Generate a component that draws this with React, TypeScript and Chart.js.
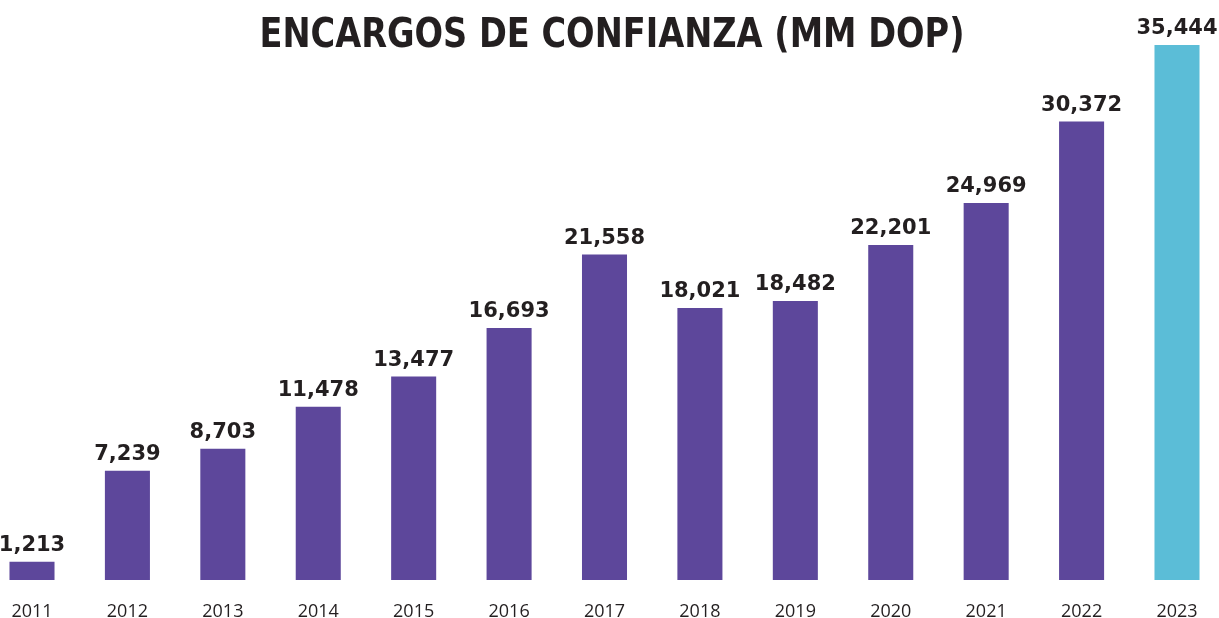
import React, { useEffect, useRef } from "react";
import { Chart, registerables } from "chart.js";

Chart.register(...registerables);

const TITLE = "ENCARGOS DE CONFIANZA (MM DOP)";
const years = ["2011", "2012", "2013", "2014", "2015", "2016", "2017", "2018", "2019", "2020", "2021", "2022", "2023"];
const values = [1213, 7239, 8703, 11478, 13477, 16693, 21558, 18021, 18482, 22201, 24969, 30372, 35444];
const PURPLE = "#5D479B";
const CYAN = "#5BBDD7";
const TEXT = "#231F20";

const labelPlugin = {
  id: "valueLabels",
  afterDatasetsDraw(chart: any) {
    const ctx = chart.ctx;
    const meta = chart.getDatasetMeta(0);
    ctx.save();
    ctx.fillStyle = TEXT;
    ctx.font = "bold 21px 'DejaVu Sans'";
    ctx.textAlign = "center";
    ctx.textBaseline = "alphabetic";
    meta.data.forEach((bar: any, i: number) => {
      const txt = values[i].toLocaleString("en-US");
      ctx.fillText(txt, bar.x, bar.y - 11);
    });
    // title
    ctx.font = "bold 40px 'DejaVu Sans'";
    const w = ctx.measureText(TITLE).width;
    const target = 705;
    ctx.translate(612, 47);
    ctx.scale(target / w, 1);
    ctx.fillText(TITLE, 0, 0);
    ctx.restore();
  },
};

export default function App() {
  const ref = useRef<HTMLCanvasElement>(null);
  useEffect(() => {
    if (!ref.current) return;
    const chart = new Chart(ref.current, {
      type: "bar",
      data: {
        labels: years,
        datasets: [
          {
            data: values,
            backgroundColor: values.map((_, i) => (i === values.length - 1 ? CYAN : PURPLE)),
            categoryPercentage: 1,
            barPercentage: 0.472,
            clip: false as any,
          },
        ],
      },
      options: {
        responsive: false,
        animation: false,
        devicePixelRatio: 1,
        layout: { padding: { left: 32, right: 42, top: 45, bottom: 0 } },
        plugins: { legend: { display: false }, tooltip: { enabled: false }, title: { display: false } },
        scales: {
          x: {
            offset: false,
            grid: { display: false, drawTicks: false },
            border: { display: false },
            ticks: { color: TEXT, font: { family: "'Open Sans'", size: 18 }, padding: 21, maxRotation: 0, autoSkip: false },
            afterFit: (s: any) => {
              s.height = 38;
              s.paddingLeft = 0;
              s.paddingRight = 0;
            },
          },
          y: { display: false, min: 0, max: 35444 },
        },
      },
      plugins: [labelPlugin],
    });
    return () => chart.destroy();
  }, []);
  return (
    <div style={{ position: "fixed", left: 0, top: 0, width: 1219, height: 618, background: "#fff" }}>
      <canvas ref={ref} width={1219} height={618} />
    </div>
  );
}
